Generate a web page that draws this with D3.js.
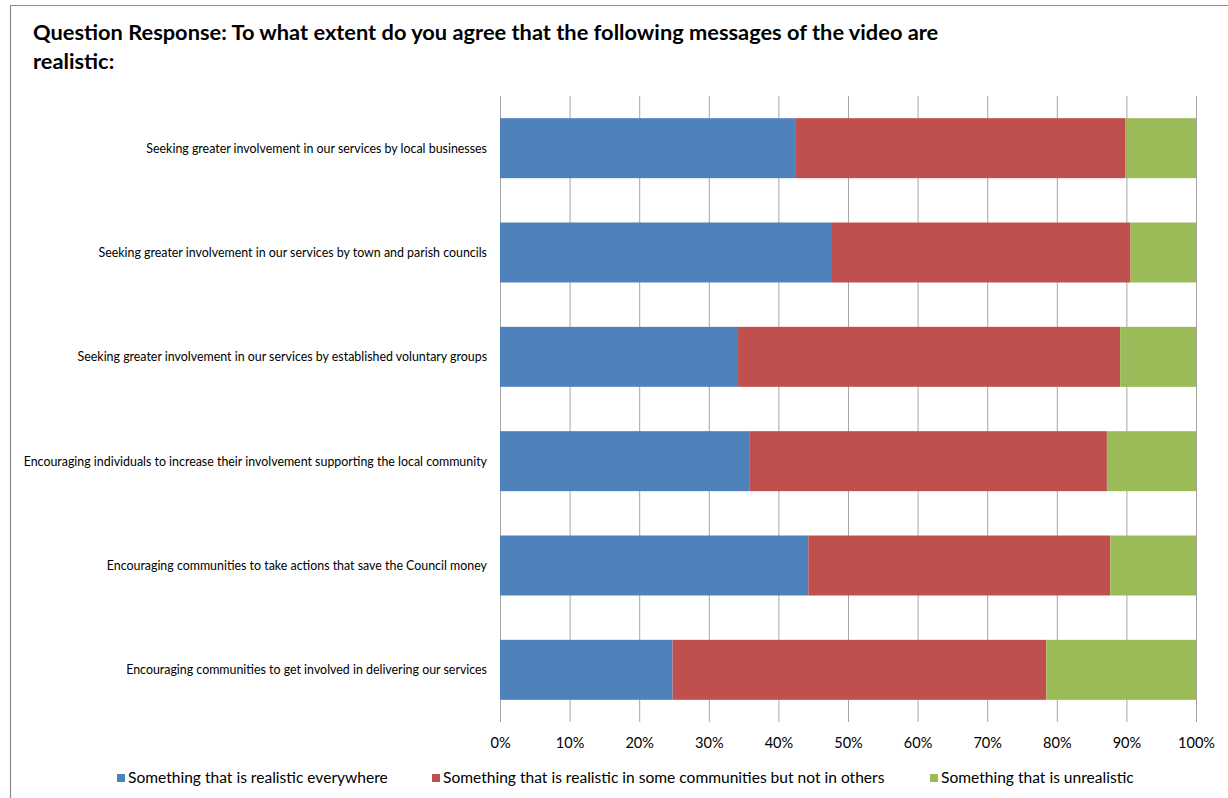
<!DOCTYPE html>
<html>
<head>
<meta charset="utf-8">
<script src="https://cdn.jsdelivr.net/npm/d3@7"></script>
<style>
  html, body { margin: 0; padding: 0; background: #fff; }
  svg { display: block; }
  text { font-family: Lato, "Open Sans", "Liberation Sans", sans-serif; fill: #000; }
</style>
</head>
<body>
<svg id="chart" width="1228" height="798"></svg>
<script>
// Survey statements (top to bottom)
const categories = [
  "Seeking greater involvement in our services by local businesses",
  "Seeking greater involvement in our services by town and parish councils",
  "Seeking greater involvement in our services by established voluntary groups",
  "Encouraging individuals to increase their involvement supporting the local community",
  "Encouraging communities to take actions that save the Council money",
  "Encouraging communities to get involved in delivering our services"
];

const seriesNames = [
  "Something that is realistic everywhere",
  "Something that is realistic in some communities but not in others",
  "Something that is unrealistic"
];

// Share of responses (%) for each statement
const realisticEverywhere = [42.4, 47.7, 34.2, 35.9, 44.3, 24.8];
const realisticSome       = [47.4, 42.9, 54.9, 51.3, 43.4, 53.7];
const unrealistic         = [10.2,  9.4, 10.9, 12.8, 12.3, 21.5];

const tickValues = [0, 10, 20, 30, 40, 50, 60, 70, 80, 90, 100];
const colors = ["#4f81bd", "#c0504d", "#9bbb59"];

const titleLines = [
  "Question Response: To what extent do you agree that the following messages of the video are",
  "realistic:"
];

const svg = d3.select("#chart");

// Resize a group of text nodes so that a reference node spans the given width
function fitGroup(sel, refNode, width, baseSize) {
  const w = refNode.getComputedTextLength();
  const size = baseSize * width / w;
  sel.style("font-size", size + "px");
}

// Outer frame
svg.append("path")
  .attr("d", "M10.5,798 V5.5 H1228")
  .attr("fill", "none")
  .attr("stroke", "#8c8c8c")
  .attr("stroke-width", 1.2);

// Title
const title = svg.append("g");
const titleText = title.selectAll("text")
  .data(titleLines)
  .join("text")
  .attr("x", 33)
  .attr("y", (d, i) => 40 + i * 29)
  .style("font-size", "20px")
  .style("font-weight", "bold")
  .text(d => d);
fitGroup(titleText, titleText.node(), 906, 20);

const margin = { left: 500, right: 1196, top: 96, bottom: 722 };

const x = d3.scaleLinear().domain([0, 100]).range([margin.left, margin.right]);
const y = d3.scaleBand().domain(categories).range([margin.top, margin.bottom]).paddingInner(0.425).paddingOuter(0.2125);

// Vertical gridlines with tick marks reaching below the bars
const xAxis = d3.axisBottom(x)
  .tickValues(tickValues)
  .tickSize(margin.bottom - margin.top)
  .tickPadding(16)
  .tickFormat(d => d + "%");

const gx = svg.append("g")
  .attr("transform", `translate(0,${margin.top})`)
  .call(xAxis);
gx.select(".domain").remove();
gx.selectAll(".tick line")
  .attr("stroke", "#a6a6a6")
  .attr("stroke-width", 1);
const tickText = gx.selectAll(".tick text")
  .style("font-family", "Lato, 'Open Sans', sans-serif")
  .style("font-size", "14px")
  .attr("fill", "#000");
fitGroup(tickText, tickText.nodes()[10], 37, 14);

// Stacked bars
const rows = categories.map((c, i) => ({
  cat: c,
  v: [realisticEverywhere[i], realisticSome[i], unrealistic[i]]
}));
const stack = d3.stack().keys([0, 1, 2]).value((d, k) => d.v[k]);
const layers = stack(rows);

svg.append("g").selectAll("g")
  .data(layers)
  .join("g")
  .attr("fill", (d, i) => colors[i])
  .selectAll("rect")
  .data(d => d)
  .join("rect")
  .attr("x", d => x(d[0]))
  .attr("width", d => x(d[1]) - x(d[0]))
  .attr("y", d => y(d.data.cat))
  .attr("height", y.bandwidth());

// Category labels
const catText = svg.append("g").selectAll("text")
  .data(categories)
  .join("text")
  .attr("x", 487)
  .attr("y", d => y(d) + y.bandwidth() / 2)
  .attr("dy", "0.35em")
  .attr("text-anchor", "end")
  .style("font-size", "11px")
  .text(d => d);
fitGroup(catText, catText.node(), 341, 11);

// Legend
const legendX = [117, 432, 930];
const legend = svg.append("g");
const legendText = [];
seriesNames.forEach((name, i) => {
  legend.append("rect")
    .attr("x", legendX[i])
    .attr("y", 774)
    .attr("width", 8)
    .attr("height", 8)
    .attr("fill", colors[i]);
  legendText.push(legend.append("text")
    .attr("x", legendX[i] + 11)
    .attr("y", 778)
    .attr("dy", "0.35em")
    .style("font-size", "14.5px")
    .text(name).node());
});
fitGroup(d3.selectAll(legendText), legendText[0], 260, 14.5);
</script>
</body>
</html>
